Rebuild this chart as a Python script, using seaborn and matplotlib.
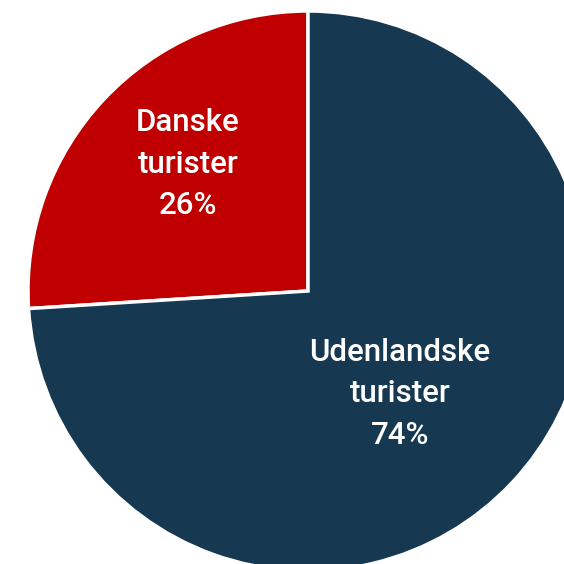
import numpy as np
import matplotlib
matplotlib.use("Agg")
import matplotlib.pyplot as plt
import seaborn as sns

categories = ["Danske\nturister", "Udenlandske\nturister"]
shares = [26, 74]
colors = ["#C00000", "#163851"]
label_dist = [0.624, 0.493]
label_angle_shift = [-3.4, -5.0]

sns.set_theme(style="white")
plt.rcParams["font.family"] = ["Roboto", "DejaVu Sans"]

fig = plt.figure(figsize=(5.64, 5.64), dpi=100)
ax = fig.add_axes([0, 0, 1, 1])
R = 280.0
cx, cy = 308.0, 291.0
wedges, _ = ax.pie(shares, colors=colors, startangle=90, counterclock=True,
                   radius=1.0, wedgeprops=dict(edgecolor="white", linewidth=2.5))
for w, cat, s, d, sh in zip(wedges, categories, shares, label_dist, label_angle_shift):
    mid = np.deg2rad((w.theta1 + w.theta2) / 2 + sh)
    ax.text(d * np.cos(mid), d * np.sin(mid), f"{cat}\n{s}%", ha="center", va="center",
            color="white", fontsize=22.5, fontweight="medium", linespacing=1.53)
ax.set_xlim(-cx / R, (564 - cx) / R)
ax.set_ylim(-(564 - cy) / R, cy / R)
ax.set_aspect("auto")
ax.axis("off")
fig.savefig("out.png", dpi=100)
